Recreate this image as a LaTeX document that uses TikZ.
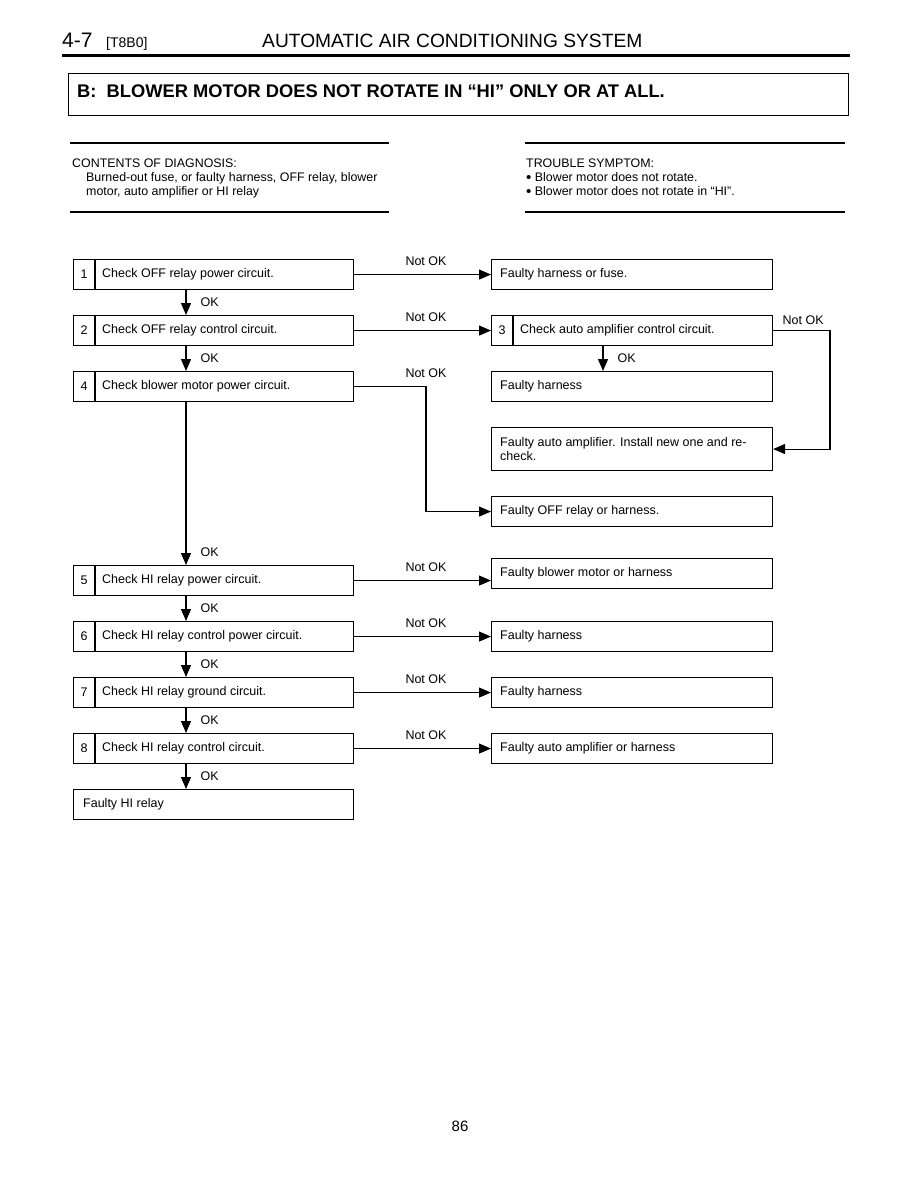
\documentclass[tikz,border=0pt]{standalone}
\usepackage{fontspec}
\setmainfont{Liberation Sans}
\usetikzlibrary{arrows.meta,calc}
\newcommand{\bigbul}{\raisebox{-1.3pt}{\fontsize{15}{14}\selectfont\textbullet}}
\begin{document}
\begin{tikzpicture}[x=1pt,y=-1pt,
  box/.style={draw,line width=1.1pt,anchor=north west,minimum width=280pt,minimum height=30pt,inner sep=0pt},
  txt/.style={anchor=west,inner sep=0pt,font=\fontsize{12.5}{14}\selectfont},
  lbl/.style={inner sep=0pt,font=\fontsize{12.5}{14}\selectfont},
  plain/.style={anchor=base west,inner sep=0pt,font=\fontsize{12.4}{14}\selectfont},
  arr/.style={line width=1.1pt,-{Triangle[length=12pt,width=10pt]}},
  divider/.style={line width=1.1pt},
  rule/.style={line width=1.8pt}]
\useasboundingbox (0,0) rectangle (918,1188);
\fill[white] (0,0) rectangle (918,1188);

% ---------- header ----------
\node[anchor=base west,inner sep=0pt,font=\fontsize{21}{24}\selectfont] (hnum) at (62,48) {4-7};
\node[anchor=base west,inner sep=0pt,font=\fontsize{14}{16}\selectfont] (hcode) at (106,48) {[T8B0]};
\node[anchor=base west,inner sep=0pt,font=\fontsize{19.2}{22}\selectfont] (htitle) at (262,48) {AUTOMATIC AIR CONDITIONING SYSTEM};
\coordinate (hr1) at (62,56);
\coordinate (hr2) at (850,56);
\draw[line width=3pt] (hr1) -- (hr2);

\node[draw,line width=1.1pt,anchor=north west,minimum width=780pt,minimum height=42pt,inner sep=0pt] (tbox) at (68,73) {};
\node[anchor=base west,inner sep=0pt,font=\fontsize{18.3}{21}\selectfont\bfseries] (ttitle) at (77,98) {B:\ \ BLOWER MOTOR DOES NOT ROTATE IN “HI” ONLY OR AT ALL.};

% ---------- diagnosis / symptom ----------
\coordinate (lr1a) at (70,143); \coordinate (lr1b) at (389,143);
\coordinate (lr2a) at (70,212); \coordinate (lr2b) at (389,212);
\coordinate (rr1a) at (525,143); \coordinate (rr1b) at (845,143);
\coordinate (rr2a) at (525,212); \coordinate (rr2b) at (845,212);
\draw[rule] (lr1a) -- (lr1b);
\draw[rule] (lr2a) -- (lr2b);
\draw[rule] (rr1a) -- (rr1b);
\draw[rule] (rr2a) -- (rr2b);
\node[plain] (cd) at (72,167) {CONTENTS OF DIAGNOSIS:};
\node[plain] (cd1) at (86,181) {Burned-out fuse, or faulty harness, OFF relay, blower};
\node[plain] (cd2) at (86,195) {motor, auto amplifier or HI relay};
\node[plain] (ts) at (526,167) {TROUBLE SYMPTOM:};
\node[plain] (ts1) at (526,181) {\bigbul\ Blower motor does not rotate.};
\node[plain] (ts2) at (526,195) {\bigbul\ Blower motor does not rotate in “HI”.};

% ---------- left column ----------
\node[box] (b1) at (73,259) {};
\node[box] (b2) at (73,315) {};
\node[box] (b4) at (73,371) {};
\node[box] (b5) at (73,565) {};
\node[box] (b6) at (73,621) {};
\node[box] (b7) at (73,677) {};
\node[box] (b8) at (73,733) {};
\node[box] (bf) at (73,789) {};

% ---------- right column ----------
\node[box,minimum width=281pt] (r1) at (491,259) {};
\node[box,minimum width=281pt] (r3) at (491,315) {};
\node[box,minimum width=281pt] (r3ok) at (491,371) {};
\node[box,minimum width=281pt,minimum height=43pt] (ramp) at (491,427) {};
\node[box,minimum width=281pt] (roff) at (491,496) {};
\node[box,minimum width=281pt] (r5) at (491,558) {};
\node[box,minimum width=281pt] (r6) at (491,621) {};
\node[box,minimum width=281pt] (r7) at (491,677) {};
\node[box,minimum width=281pt] (r8) at (491,733) {};

% number cells
\foreach \b/\k in {b1/1,b2/2,b4/4,b5/5,b6/6,b7/7,b8/8,r3/3} {
  \draw[divider] ([xshift=22pt]\b.north west) -- ([xshift=22pt]\b.south west);
  \node[lbl] at ([xshift=11pt]\b.west) {\k};
}

% texts
\node[txt] (t1) at ([xshift=29pt]b1.west) {Check OFF relay power circuit.};
\node[txt] (t2) at ([xshift=29pt]b2.west) {Check OFF relay control circuit.};
\node[txt] (t4) at ([xshift=29pt]b4.west) {Check blower motor power circuit.};
\node[txt] (t5) at ([xshift=29pt]b5.west) {Check HI relay power circuit.};
\node[txt] (t6) at ([xshift=29pt]b6.west) {Check HI relay control power circuit.};
\node[txt] (t7) at ([xshift=29pt]b7.west) {Check HI relay ground circuit.};
\node[txt] (t8) at ([xshift=29pt]b8.west) {Check HI relay control circuit.};
\node[txt] (tf) at ([xshift=10pt]bf.west) {Faulty HI relay};

\node[txt] (u1) at ([xshift=9pt]r1.west) {Faulty harness or fuse.};
\node[txt] (u3) at ([xshift=29pt]r3.west) {Check auto amplifier control circuit.};
\node[txt] (u3ok) at ([xshift=9pt]r3ok.west) {Faulty harness};
\node[txt,align=left] (uamp) at ([xshift=9pt]ramp.west) {Faulty auto amplifier. Install new one and re-\\check.};
\node[txt] (uoff) at ([xshift=9pt]roff.west) {Faulty OFF relay or harness.};
\node[txt] (u5) at ([xshift=9pt]r5.west) {Faulty blower motor or harness};
\node[txt] (u6) at ([xshift=9pt]r6.west) {Faulty harness};
\node[txt] (u7) at ([xshift=9pt]r7.west) {Faulty harness};
\node[txt] (u8) at ([xshift=9pt]r8.west) {Faulty auto amplifier or harness};

% ---------- OK arrows ----------
\coordinate (ax) at (186,0);
\coordinate (ax3) at (603,0);
\draw[arr] (b1.south -| ax) -- (b2.north -| ax) node[lbl,midway,right=14pt] {OK};
\draw[arr] (b2.south -| ax) -- (b4.north -| ax) node[lbl,midway,right=14pt] {OK};
\draw[arr] (b4.south -| ax) -- (b5.north -| ax) node[lbl,pos=0.92,right=14pt] {OK};
\draw[arr] (b5.south -| ax) -- (b6.north -| ax) node[lbl,midway,right=14pt] {OK};
\draw[arr] (b6.south -| ax) -- (b7.north -| ax) node[lbl,midway,right=14pt] {OK};
\draw[arr] (b7.south -| ax) -- (b8.north -| ax) node[lbl,midway,right=14pt] {OK};
\draw[arr] (b8.south -| ax) -- (bf.north -| ax) node[lbl,midway,right=14pt] {OK};
\draw[arr] (r3.south -| ax3) -- (r3ok.north -| ax3) node[lbl,midway,right=14pt] {OK};

% ---------- Not OK arrows ----------
\coordinate (nx) at (426,0);
\coordinate (cx) at (830,0);
\foreach \b/\r in {b1/r1,b2/r3,b5/r5,b6/r6,b7/r7,b8/r8} {
  \draw[arr] (\b.east) -- (\b.east -| \r.west);
  \node[lbl] at ($(\b.east -| nx)+(0,-13)$) {Not OK};
}
\draw[arr] (b4.east) -- (b4.east -| nx) -- (roff.west -| nx) -- (roff.west);
\node[lbl] (n4) at ($(b4.east -| nx)+(0,-13)$) {Not OK};
\draw[arr] (r3.east) -- (r3.east -| cx) -- (ramp.east -| cx) -- (ramp.east);
\node[lbl] (n3) at ($(r3.east)+(30,-10)$) {Not OK};

% ---------- page number ----------
\node[anchor=base,inner sep=0pt,font=\fontsize{15}{18}\selectfont] (pg) at (460,1131) {86};
\end{tikzpicture}
\end{document}
